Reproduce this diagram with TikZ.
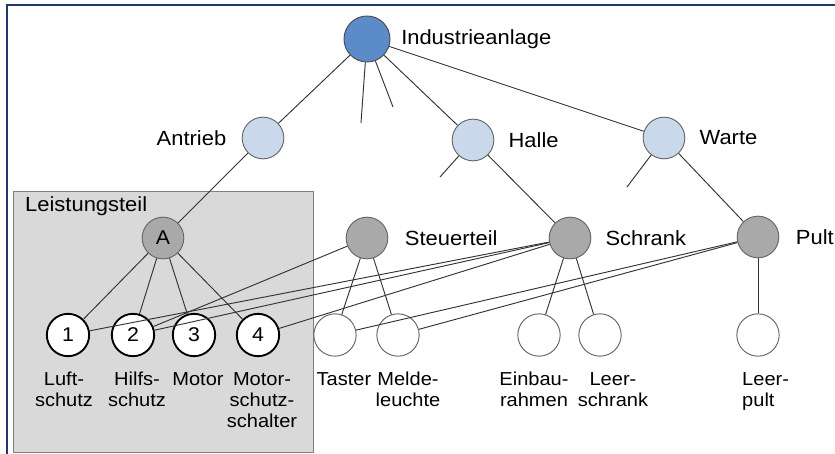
\documentclass[tikz,border=0pt]{standalone}
\usepackage{fontspec}
\setmainfont{Liberation Sans}[FakeStretch=1.07]
\usepackage{tikz}
\usetikzlibrary{positioning}

\definecolor{rootblue}{HTML}{5B8BC9}
\definecolor{paleblue}{HTML}{C9D9EB}
\definecolor{knotgray}{HTML}{A9A9A9}
\definecolor{boxgray}{HTML}{D9D9D9}
\definecolor{frameblue}{HTML}{1F3A68}

\begin{document}
\begin{tikzpicture}%
	[x=0.03cm, y=-0.03cm,
	edge/.style={draw=black!80, line width=0.8pt},
	root/.style={circle, draw=black!70, fill=rootblue, line width=0.8pt, minimum size=1.38cm, inner sep=0pt},
	middle/.style={circle, draw=black!60, fill=paleblue, line width=0.8pt, minimum size=1.25cm, inner sep=0pt},
	knot/.style={circle, draw=black!60, fill=knotgray, line width=0.8pt, minimum size=1.25cm, inner sep=0pt, font=\fontsize{17}{20}\selectfont},
	leafnum/.style={circle, draw=black, fill=white, line width=1.6pt, minimum size=1.27cm, inner sep=0pt, font=\fontsize{17}{20}\selectfont},
	leaf/.style={circle, draw=black!60, fill=white, line width=0.8pt, minimum size=1.27cm, inner sep=0pt},
	lbl/.style={inner sep=0pt, font=\fontsize{17.5}{21}\selectfont},
	sub/.style={inner sep=0pt, align=center, anchor=north, font=\fontsize{16}{18}\selectfont}]
%
\useasboundingbox (0,0) rectangle (835,454);
%%
%% Frame and the Leistungsteil box
%%
\draw[frameblue, line width=2pt] (7,454) -- (7,5) -- (835,5);
\draw[draw=black!50, fill=boxgray, line width=0.8pt] (13,191) rectangle (313,452);
\node[lbl, anchor=west] (leist) at (25,206) {Leistungsteil};
%%
%% Level 0 and 1
%%
\node[root] (ind) at (367,39) {};
\node[lbl, right=9pt of ind] (indL) {Industrieanlage};
\node[middle] (antr) at (263,138) {};
\node[lbl, left=13pt of antr] (antrL) {Antrieb};
\node[middle] (halle) at (473,140) {};
\node[lbl, right=12pt of halle] (halleL) {Halle};
\node[middle] (warte) at (664,138) {};
\node[lbl, right=12pt of warte] (warteL) {Warte};
%%
%% Level 2
%%
\node[knot] (agg) at (163,238) {A};
\node[knot] (steu) at (367,238) {};
\node[lbl, right=14pt of steu] (steuL) {Steuerteil};
\node[knot] (schr) at (570,238) {};
\node[lbl, right=12pt of schr] (schrL) {Schrank};
\node[knot] (pult) at (758,237) {};
\node[lbl, right=14pt of pult] (pultL) {Pult};
%%
%% Level 3
%%
\node[leafnum] (n1) at (68,335) {1};
\node[leafnum] (n2) at (133,335) {2};
\node[leafnum] (n3) at (194,335) {3};
\node[leafnum] (n4) at (258,335) {4};
\node[leaf] (tast) at (335,335) {};
\node[leaf] (meld) at (398,335) {};
\node[leaf] (einb) at (539,335) {};
\node[leaf] (leers) at (600,335) {};
\node[leaf] (leerp) at (758,335) {};
%%
\node[sub] (n1L) at (64,372) {Luft-\\schutz};
\node[sub] (n2L) at (137,372) {Hilfs-\\schutz};
\node[sub] (n3L) at (198,372) {Motor};
\node[sub] (n4L) at (262,372) {Motor-\\schutz-\\schalter};
\node[sub] (tastL) at (344,372) {Taster};
\node[sub] (meldL) at (408,372) {Melde-\\leuchte};
\node[sub] (einbL) at (534,372) {Einbau-\\rahmen};
\node[sub] (leersL) at (613,372) {Leer-\\schrank};
\node[sub, align=left, anchor=north west] (leerpL) at (742,372) {Leer-\\pult};
%%
%% Open branches
%%
\coordinate (s1) at (361,123);
\coordinate (s2) at (393,107);
\coordinate (s3) at (440,177);
\coordinate (s4) at (627,187);
%%
%% Edges
%%
\draw[edge] (ind) -- (antr);
\draw[edge] (ind) -- (halle);
\draw[edge] (ind) -- (warte);
\draw[edge] (ind) -- (s1);
\draw[edge] (ind) -- (s2);
\draw[edge] (halle) -- (s3);
\draw[edge] (warte) -- (s4);
\draw[edge] (antr) -- (agg);
\draw[edge] (halle) -- (schr);
\draw[edge] (warte) -- (pult);
\draw[edge] (agg) -- (n1);
\draw[edge] (agg) -- (n2);
\draw[edge] (agg) -- (n3);
\draw[edge] (agg) -- (n4);
\draw[edge] (steu) -- (tast);
\draw[edge] (steu) -- (meld);
\draw[edge] (steu) -- (n2);
\draw[edge] (schr) -- (n1);
\draw[edge] (schr) -- (n2);
\draw[edge] (schr) -- (n4);
\draw[edge] (schr) -- (einb);
\draw[edge] (schr) -- (leers);
\draw[edge] (pult) -- (tast);
\draw[edge] (pult) -- (meld);
\draw[edge] (pult) -- (leerp);
%%
\end{tikzpicture}
\end{document}
